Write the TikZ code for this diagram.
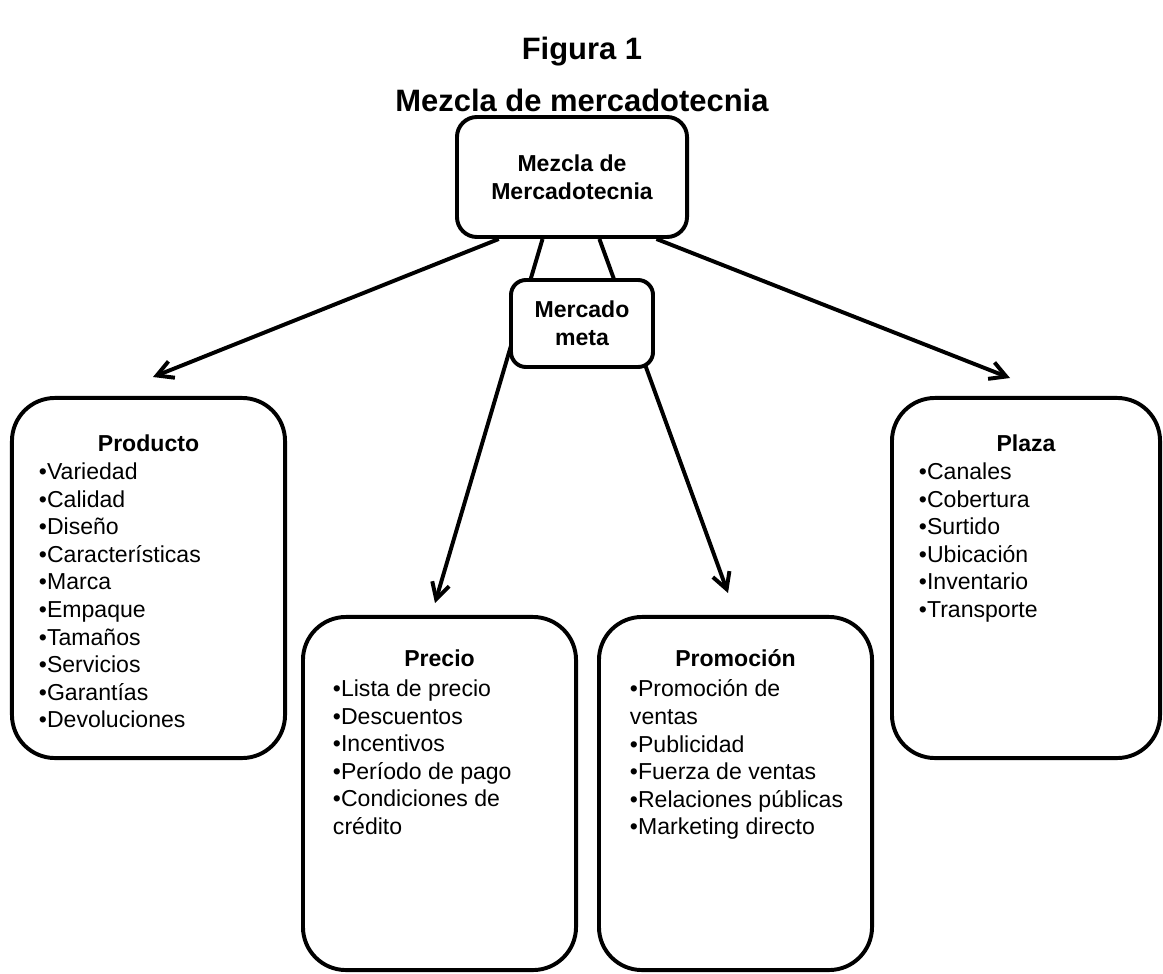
\documentclass[tikz,border=0pt]{standalone}
\usepackage{fontspec}
\setmainfont{Liberation Sans}
\usepackage{tikz}
\usetikzlibrary{calc, positioning, arrows.meta}

\tikzset{
  title/.style={anchor=base, font=\fontsize{22}{26}\selectfont\bfseries},
  topbox/.style={draw, fill=white, align=center, inner sep=0pt,
    font=\fontsize{16.4}{19.6}\selectfont\bfseries},
  card/.style={draw, rounded corners=1.075cm, minimum width=6.825cm, inner sep=0pt},
  head/.style={anchor=base, font=\fontsize{16.4}{19.6}\selectfont\bfseries},
  items/.style={anchor=north west, align=left, inner sep=0pt,
    font=\fontsize{16.4}{19.6}\selectfont},
}

\begin{document}
\begin{tikzpicture}[x=0.025cm, y=-0.025cm, line width=2.8pt,
    >={Straight Barb[length=4mm, width=4.4mm]}]
  \useasboundingbox (0,0) rectangle (1163,973);

  % Title
  \node[title] (fig) at (582,59) {Figura 1};
  \node[title] (figname) at (582,111) {Mezcla de mercadotecnia};

  % Top box
  \node[topbox, minimum width=5.75cm, minimum height=3cm, rounded corners=0.5cm] (mezcla) at (572,177) {Mezcla de\\Mercadotecnia};

  % The four P's
  \node[card, minimum height=9cm] (producto) at (148.5,578) {};
  \node[card, minimum height=8.825cm] (precio) at (439.5,793.5) {};
  \node[card, minimum height=8.825cm] (promocion) at (735.5,793.5) {};
  \node[card, minimum height=9cm, minimum width=6.7cm] (plaza) at (1026,578) {};

  % Arrows (they run behind the target market box)
  \coordinate (prodTip) at (153,377);
  \coordinate (precTip) at (435,603);
  \coordinate (promTip) at (728,593);
  \coordinate (plazTip) at (1010,378);
  \draw[->] ($(mezcla.south west)!0.187!(mezcla.south east)$) -- (prodTip);
  \draw[->] ($(mezcla.south west)!0.374!(mezcla.south east)$) -- (precTip);
  \draw[->] ($(mezcla.south west)!0.617!(mezcla.south east)$) -- (promTip);
  \draw[->] ($(mezcla.south west)!0.861!(mezcla.south east)$) -- (plazTip);

  \node[topbox, minimum width=3.55cm, minimum height=2.175cm, rounded corners=0.375cm] (meta) at (582,323.5) {Mercado\\meta};

  % Box texts
  \node[head] (prodHead) at (148.5,451) {Producto};
  \node[items] (prodList) at (37,461) {•Variedad\\•Calidad\\•Diseño\\•Características\\•Marca\\•Empaque\\•Tamaños\\•Servicios\\•Garantías\\•Devoluciones};

  \node[head] (precHead) at (439.5,666) {Precio};
  \node[items] (precList) at (331,678) {•Lista de precio\\•Descuentos\\•Incentivos\\•Período de pago\\•Condiciones de\\crédito};

  \node[head] (promHead) at (735.5,666) {Promoción};
  \node[items] (promList) at (628,678) {•Promoción de\\ventas\\•Publicidad\\•Fuerza de ventas\\•Relaciones públicas\\•Marketing directo};

  \node[head] (plazHead) at (1026,451) {Plaza};
  \node[items] (plazList) at (917,461) {•Canales\\•Cobertura\\•Surtido\\•Ubicación\\•Inventario\\•Transporte};
\end{tikzpicture}
\end{document}
